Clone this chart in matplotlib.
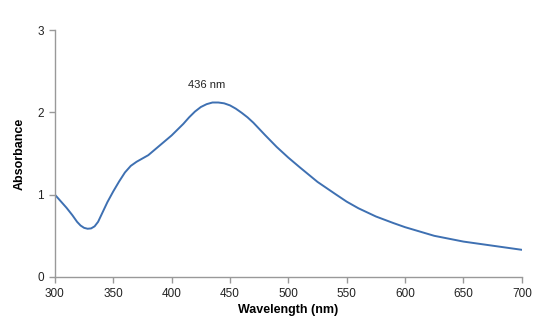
import matplotlib.pyplot as plt

plt.rcParams["font.family"] = ["Liberation Sans", "DejaVu Sans"]

# absorbance spectrum
wavelength = [300, 305, 310, 315, 319, 322, 325, 328, 331, 334, 337, 340,
              345, 350, 355, 360, 365, 370, 375, 380, 385, 390, 395, 400,
              405, 410, 415, 420, 425, 430, 435, 440, 445, 450, 455, 460,
              465, 470, 475, 480, 490, 500, 510, 525, 540, 550, 560, 575,
              590, 600, 625, 650, 675, 700]
absorbance = [1.00, 0.92, 0.84, 0.75, 0.67, 0.625, 0.597, 0.586, 0.59, 0.615,
              0.67, 0.76, 0.91, 1.04, 1.16, 1.27, 1.35, 1.40, 1.44, 1.48,
              1.54, 1.60, 1.66, 1.72, 1.79, 1.86, 1.94, 2.01, 2.065, 2.10,
              2.12, 2.12, 2.11, 2.085, 2.045, 1.995, 1.94, 1.875, 1.80, 1.725,
              1.58, 1.45, 1.33, 1.155, 1.01, 0.915, 0.835, 0.735, 0.655, 0.605,
              0.50, 0.43, 0.38, 0.33]

x_ticks = [300, 350, 400, 450, 500, 550, 600, 650, 700]
y_ticks = [0, 1, 2, 3]
peak_label = "436 nm"
peak_pos = (430, 2.33)

fig = plt.figure(figsize=(5.33, 3.27), dpi=100)
ax = fig.add_axes([0.103, 0.153, 0.876, 0.755])

ax.plot(wavelength, absorbance, color="#3e70b2", linewidth=1.4,
        solid_joinstyle="round", solid_capstyle="round")
ax.text(peak_pos[0], peak_pos[1], peak_label, ha="center", va="center",
        fontsize=8, color="#222222")

ax.set_xlim(300, 700)
ax.set_ylim(0, 3)
ax.set_xticks(x_ticks)
ax.set_yticks(y_ticks)

for side in ["top", "right"]:
    ax.spines[side].set_visible(False)
for side in ["left", "bottom"]:
    ax.spines[side].set_color("#999999")
    ax.spines[side].set_linewidth(1.0)

ax.tick_params(direction="out", length=4, width=1.0, color="#999999",
               labelsize=8.5, labelcolor="#222222", pad=4)

ax.set_xlabel("Wavelength (nm)", fontsize=9, fontweight="bold", labelpad=3)
ax.set_ylabel("Absorbance", fontsize=9, fontweight="bold", labelpad=8)

fig.savefig("out.png", dpi=100)
